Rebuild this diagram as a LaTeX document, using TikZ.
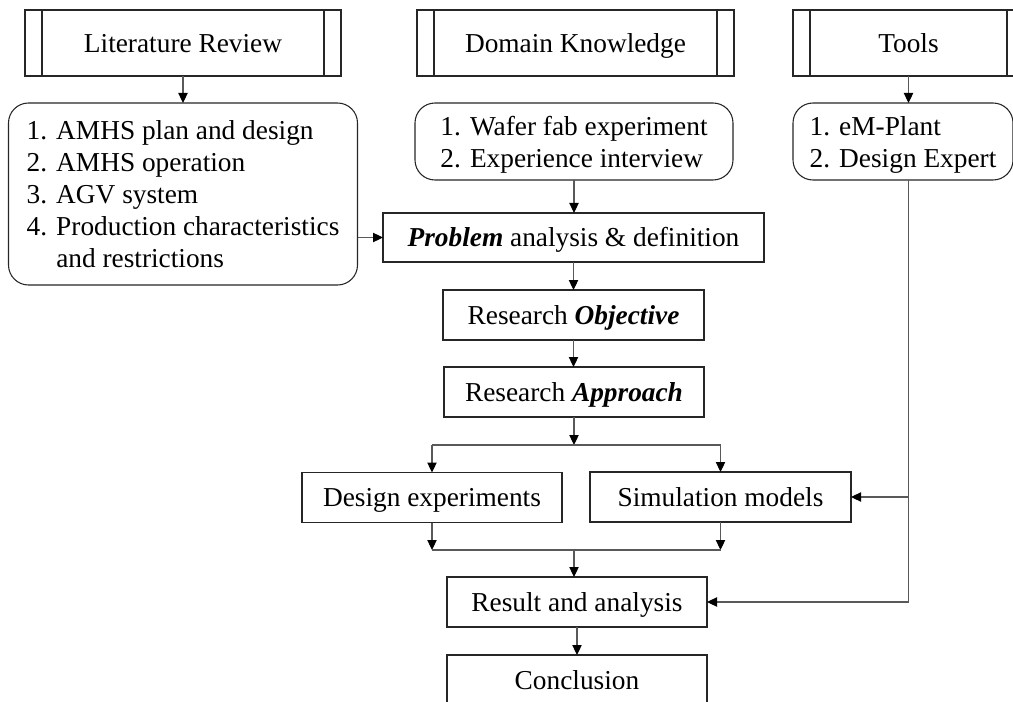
\documentclass[tikz,border=0pt]{standalone}
\usepackage{fontspec}
\setmainfont{Liberation Serif}
\usetikzlibrary{arrows.meta}
\begin{document}
\begin{tikzpicture}[x=0.75pt,y=-0.75pt,
  font=\fontsize{20.5}{24}\selectfont,
  every node/.style={inner sep=0pt, outer sep=0pt},
  box/.style={draw=black!85, line width=0.8pt},
  oneline/.style={box, text height=13.6pt, text depth=0pt},
  stepbox/.style={oneline, minimum width=195pt, minimum height=37.5pt},
  predef/.style={oneline, minimum height=49.5pt, path picture={
     \draw[black!85, line width=0.8pt]
       ([xshift=12.75pt]path picture bounding box.north west) -- ([xshift=12.75pt]path picture bounding box.south west)
       ([xshift=-12.75pt]path picture bounding box.north east) -- ([xshift=-12.75pt]path picture bounding box.south east);}},
  listbox/.style={box, rounded corners=15pt, align=left},
  line/.style={draw=black!65, line width=0.8pt},
  conn/.style={line, -{Triangle[length=7.5pt,width=7pt,color=black]}}
]
% page frame
\useasboundingbox (0,0) rectangle (1013,702);
\clip (0,0) rectangle (1013,702);
\fill[white] (0,0) rectangle (1013,702);

% sources
\node[predef, minimum width=237pt] (lr) at (183,43) {Literature Review};
\node[listbox, minimum width=261.75pt, minimum height=136.5pt] (lrl) at (183,194)
  {1. AMHS plan and design\\2. AMHS operation\\3. AGV system\\4. Production characteristics\\\phantom{4. }and restrictions};
\node[predef, minimum width=237.75pt] (dk) at (575.5,43) {Domain Knowledge};
\node[listbox, minimum width=238.5pt, minimum height=57.75pt] (dkl) at (574,141.5)
  {\rule{0pt}{20pt}1. Wafer fab experiment\\2. Experience interview};
\node[predef, minimum width=173.25pt] (tl) at (908.5,43) {Tools};
\node[listbox, minimum width=165pt, minimum height=57.75pt] (tll) at (903,141.5)
  {\rule{0pt}{20pt}1. eM-Plant\\2. Design Expert};

% main flow
\node[oneline, minimum width=285.75pt, minimum height=36.75pt] (prob) at (573.5,237.5)
  {\textbf{\textit{Problem}} analysis \& definition};
\node[stepbox, minimum width=195.75pt] (obj) at (573.5,315) {Research \textbf{\textit{Objective}}};
\node[stepbox] (appr) at (574,392) {Research \textbf{\textit{Approach}}};
\node[stepbox] (de) at (432,497.5) {Design experiments};
\node[stepbox, minimum width=195.75pt] (sm) at (720.5,497) {Simulation models};
\node[stepbox] (res) at (577,602) {Result and analysis};
\node[stepbox] (con) at (577,680) {Conclusion};

\coordinate (split) at (574,445);
\coordinate (merge) at (574,550);

% connectors
\draw[conn] (lr.south) -- (lr.south |- lrl.north);
\draw[conn] (tl.south) -- (tl.south |- tll.north);
\draw[conn] (dkl.south) -- (dkl.south |- prob.north);
\draw[conn] (lrl.east |- prob.west) -- (prob.west);
\draw[conn] (prob.south) -- (prob.south |- obj.north);
\draw[conn] (obj.south) -- (obj.south |- appr.north);
\draw[conn] (appr.south) -- (split);
\draw[line] (de |- split) -- (sm |- split);
\draw[conn] (de |- split) -- (de.north);
\draw[conn] (sm |- split) -- (sm.north);
\draw[conn] (de.south) -- (de |- merge);
\draw[conn] (sm.south) -- (sm |- merge);
\draw[line] (de |- merge) -- (sm |- merge);
\draw[conn] (merge) -- (merge |- res.north);
\draw[conn] (res.south) -- (con.north);
\draw[line] (tl.south |- tll.south) -- (tl.south |- res.east);
\draw[conn] (tl.south |- sm.east) -- (sm.east);
\draw[conn] (tl.south |- res.east) -- (res.east);
\end{tikzpicture}
\end{document}
